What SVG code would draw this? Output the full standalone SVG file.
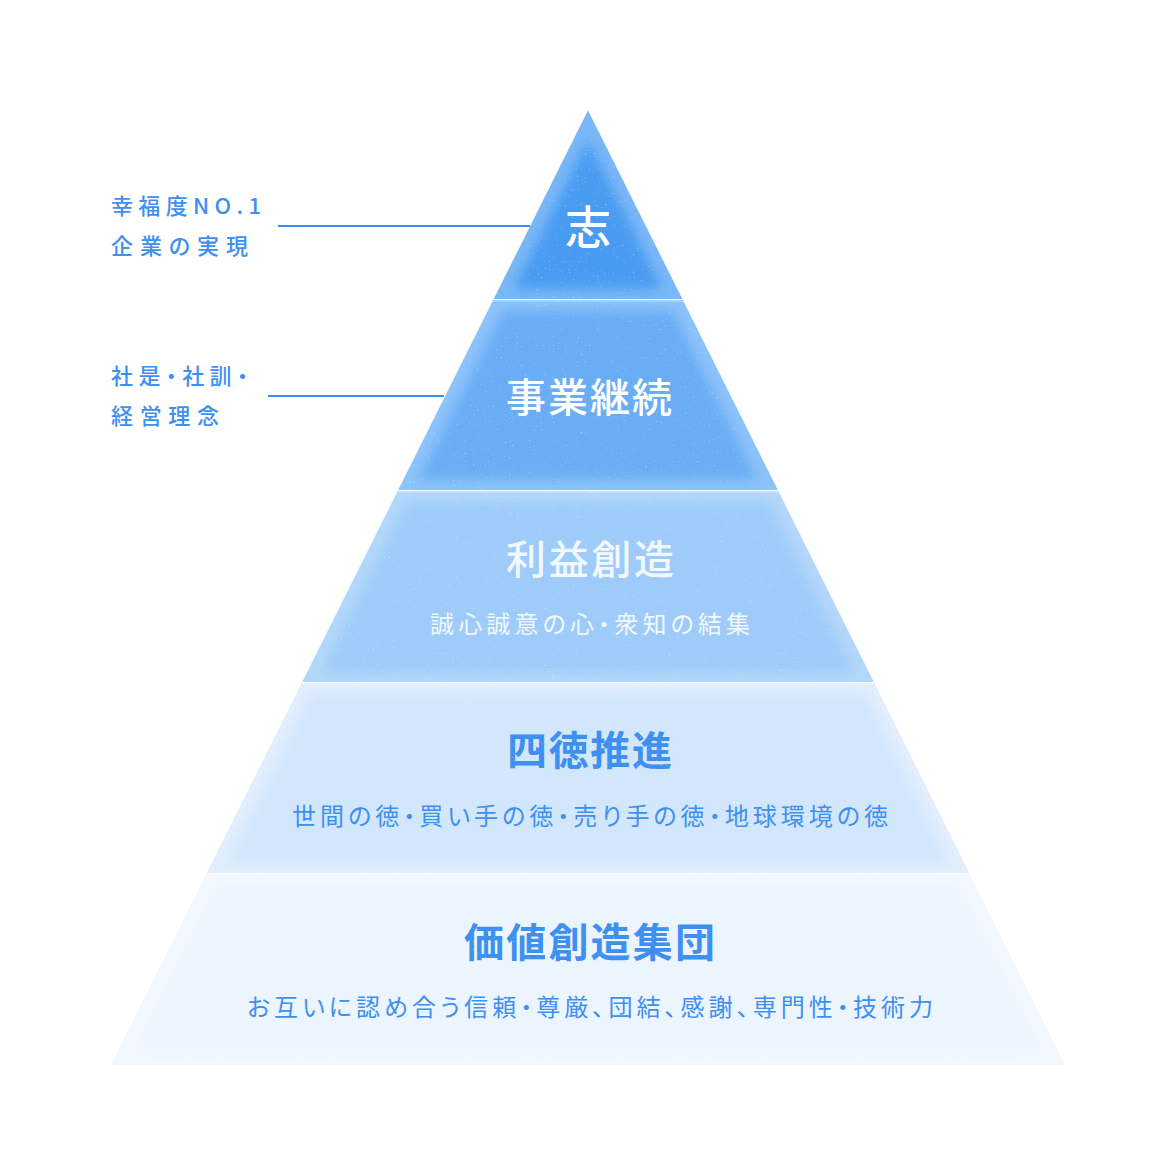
<svg xmlns="http://www.w3.org/2000/svg" width="1176" height="1176" viewBox="0 0 1176 1176">
<defs>
<style>
text{font-feature-settings:"palt" 1}
.title{font-family:"Noto Sans CJK JP","Noto Sans",sans-serif;font-size:40px;font-weight:500}
.sub{font-family:"Noto Sans CJK JP","Noto Sans",sans-serif;font-size:24px;font-weight:400}
.lbl{font-family:"Noto Sans CJK JP","Noto Sans",sans-serif;font-size:22px;font-weight:500;fill:#3d8ff0}
.w{fill:#ffffff}
.w3{fill:#f2f8ff}
.b{fill:#3d8ff0}
.lead{stroke:#3b8ff0;stroke-width:2;fill:none}
.hl{stroke-width:2}
</style>
<filter id="core" x="-10%" y="-10%" width="120%" height="120%">
<feMorphology operator="erode" radius="10"/>
<feGaussianBlur stdDeviation="6"/>
</filter>
<filter id="speckle" x="0" y="0" width="100%" height="100%">
<feTurbulence type="fractalNoise" baseFrequency="0.75" numOctaves="1" seed="7" result="n"/>
<feColorMatrix in="n" type="matrix" values="0 0 0 0 1  0 0 0 0 1  0 0 0 0 1  10 0 0 0 -6.8"/>
</filter>
<clipPath id="c1"><polygon points="588,110 682.5,299 493.5,299"/></clipPath>
<clipPath id="c2"><polygon points="493,300 683,300 778,490 398,490"/></clipPath>
<clipPath id="c3"><polygon points="397.5,491 778.5,491 874,682 302,682"/></clipPath>
<clipPath id="c4"><polygon points="301.5,683 874.5,683 969.5,873 206.5,873"/></clipPath>
<clipPath id="c5"><polygon points="206,874 970,874 1065.5,1065 110.5,1065"/></clipPath>
<clipPath id="call"><polygon points="588,110 1065.5,1065 110.5,1065"/></clipPath>
</defs>
<rect width="1176" height="1176" fill="#ffffff"/>

<g id="tier1">
<g clip-path="url(#c1)">
<polygon points="588,110 682.5,299 493.5,299" fill="#7ab7f7"/>
<polygon points="588,110 682.5,299 493.5,299" fill="#4a9bf1" filter="url(#core)"/>
</g>
<text class="title w" x="588" y="244" text-anchor="middle" style="font-size:46px">志</text>
</g>

<g id="tier2">
<g clip-path="url(#c2)">
<polygon points="493,300 683,300 778,490 398,490" fill="#8cc3f8"/>
<polygon points="493,300 683,300 778,490 398,490" fill="#6badf5" filter="url(#core)"/>
<line class="hl" x1="380" y1="301" x2="800" y2="301" stroke="#a9d2fa"/>
</g>
<text class="title w" x="506" y="412" textLength="166" lengthAdjust="spacing">事業継続</text>
</g>

<g id="tier3">
<g clip-path="url(#c3)">
<polygon points="397.5,491 778.5,491 874,682 302,682" fill="#b3d7fa"/>
<polygon points="397.5,491 778.5,491 874,682 302,682" fill="#9ecbf9" filter="url(#core)"/>
<line class="hl" x1="290" y1="492" x2="890" y2="492" stroke="#c2def9"/>
</g>
<text class="title w3" x="506" y="574" textLength="168" lengthAdjust="spacing">利益創造</text>
<text class="sub w3" x="430" y="633" textLength="320" lengthAdjust="spacing">誠心誠意の心・衆知の結集</text>
</g>

<g id="tier4">
<g clip-path="url(#c4)">
<polygon points="301.5,683 874.5,683 969.5,873 206.5,873" fill="#e1eefd"/>
<polygon points="301.5,683 874.5,683 969.5,873 206.5,873" fill="#d2e6fc" filter="url(#core)"/>
<line class="hl" x1="200" y1="684" x2="980" y2="684" stroke="#e4f0fd"/>
</g>
<text class="title b" x="507" y="765" textLength="165" lengthAdjust="spacing" style="font-weight:700">四徳推進</text>
<text class="sub b" x="292" y="825" textLength="596" lengthAdjust="spacing">世間の徳・買い手の徳・売り手の徳・地球環境の徳</text>
</g>

<g id="tier5">
<g clip-path="url(#c5)">
<polygon points="206,874 970,874 1065.5,1065 110.5,1065" fill="#f3f8fe"/>
<polygon points="206,874 970,874 1065.5,1065 110.5,1065" fill="#ecf4fe" filter="url(#core)"/>
</g>
<text class="title b" x="464" y="957" textLength="251" lengthAdjust="spacing" style="font-weight:700">価値創造集団</text>
<text class="sub b" x="247" y="1016" textLength="686" lengthAdjust="spacing">お互いに認め合う信頼・尊厳、団結、感謝、専門性・技術力</text>
</g>

<rect x="110" y="110" width="956" height="956" clip-path="url(#call)" filter="url(#speckle)" opacity="0.4"/>

<g id="connectors">
<line class="lead" x1="278" y1="226" x2="530" y2="226"/>
<line class="lead" x1="268" y1="396" x2="444" y2="396"/>
</g>

<g id="label1">
<text class="lbl" x="111" y="214" textLength="150" lengthAdjust="spacing">幸福度NO.1</text>
<text class="lbl" x="111" y="254" textLength="137" lengthAdjust="spacing">企業の実現</text>
</g>
<g id="label2">
<text class="lbl" x="111" y="384" textLength="137" lengthAdjust="spacing">社是・社訓・</text>
<text class="lbl" x="111" y="424" textLength="108" lengthAdjust="spacing">経営理念</text>
</g>
</svg>
